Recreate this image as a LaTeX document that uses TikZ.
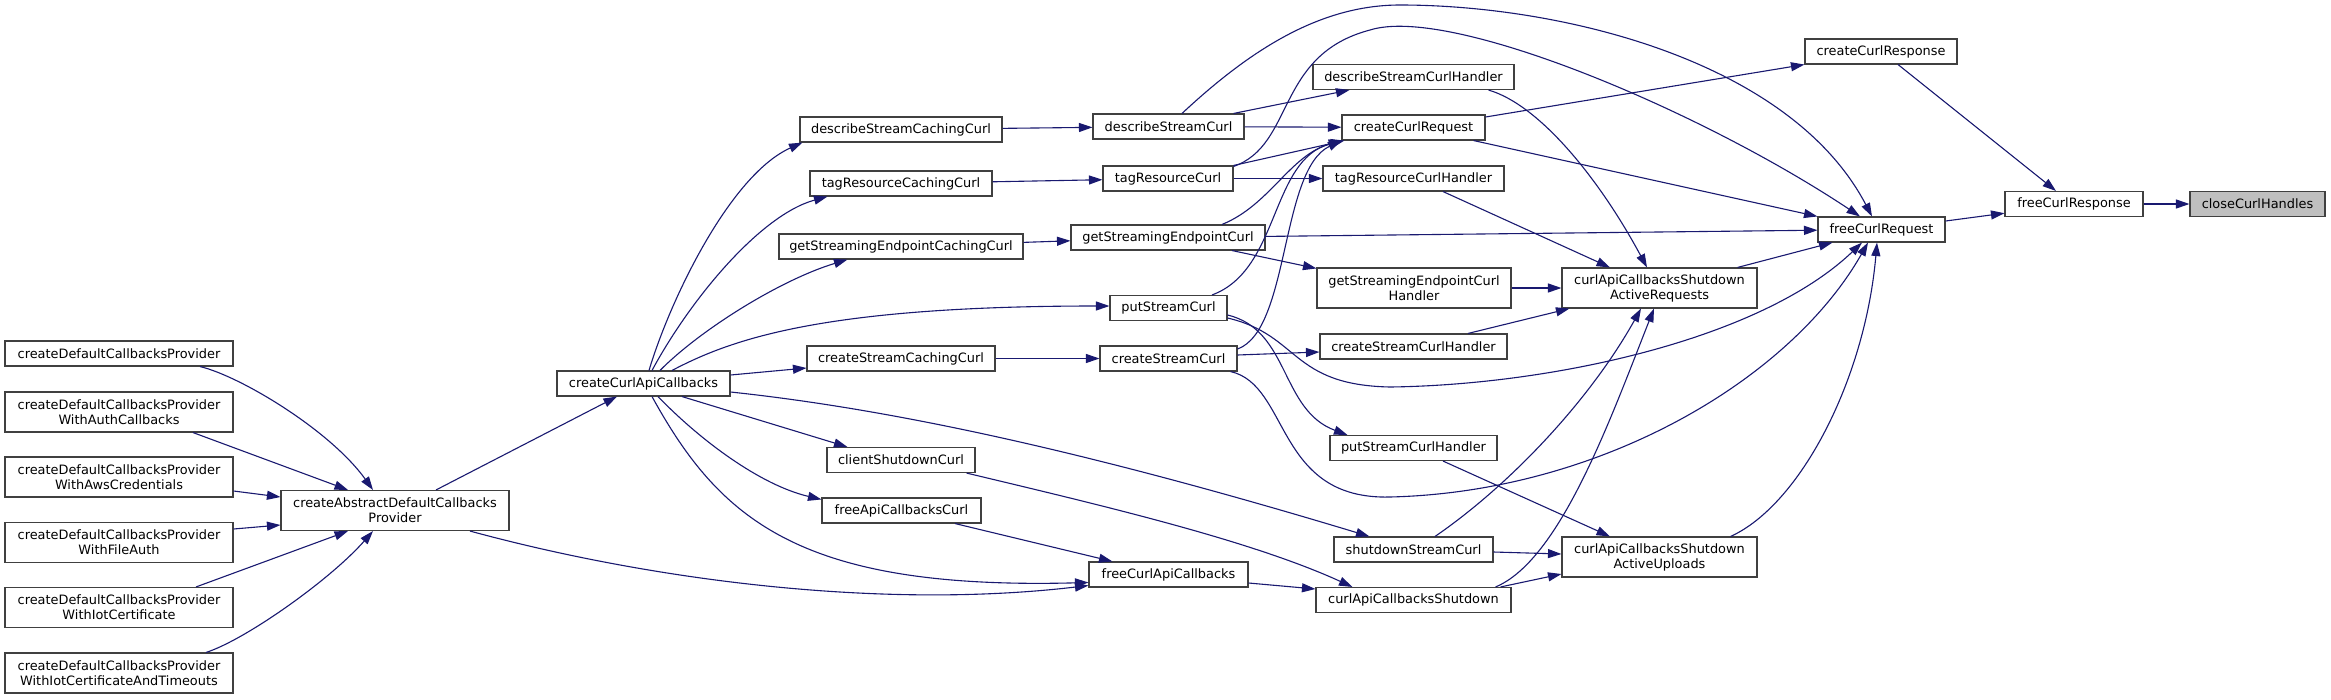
\documentclass[tikz,border=0pt]{standalone}
\usepackage{fontspec}
\setmainfont{DejaVu Sans}
\usetikzlibrary{arrows.meta}
\definecolor{edgeblue}{HTML}{191970}
\definecolor{boxgrey}{HTML}{BFBFBF}

\begin{document}
\begin{tikzpicture}[x=1pt, y=-1pt,
    fn/.style={draw=black!75, fill=white, line width=1.1pt, inner sep=0pt,
        minimum height=25, align=center, font=\fontsize{12.9}{15}\selectfont},
    two/.style={minimum height=40},
    call/.style={draw=edgeblue, line width=1.1pt,
        -{Triangle[length=13.5pt, width=9pt]}}]
    \path[use as bounding box, fill=white] (0,0) rectangle (2331,699);

    % 1. Callers of createAbstractDefaultCallbacksProvider
    \node[fn, minimum width=228] (cdcp) at (119,353.5) {createDefaultCallbacksProvider};
    \node[fn, two, minimum width=228] (cdcpAuth) at (119,412) {createDefaultCallbacksProvider\\WithAuthCallbacks};
    \node[fn, two, minimum width=228] (cdcpAws) at (119,477) {createDefaultCallbacksProvider\\WithAwsCredentials};
    \node[fn, two, minimum width=228] (cdcpFile) at (119,542.5) {createDefaultCallbacksProvider\\WithFileAuth};
    \node[fn, two, minimum width=228] (cdcpIot) at (119,607.5) {createDefaultCallbacksProvider\\WithIotCertificate};
    \node[fn, two, minimum width=228] (cdcpIotTo) at (119,673) {createDefaultCallbacksProvider\\WithIotCertificateAndTimeouts};

    \node[fn, two, minimum width=228] (cadcp) at (395,510.5) {createAbstractDefaultCallbacks\\Provider};
    \node[fn, minimum width=173] (ccac) at (643.5,383.5) {createCurlApiCallbacks};

    % 2. Caching wrappers
    \node[fn, minimum width=202] (dscc) at (901,129.5) {describeStreamCachingCurl};
    \node[fn, minimum width=182] (trcc) at (901,183.5) {tagResourceCachingCurl};
    \node[fn, minimum width=244] (gsecc) at (901,246.5) {getStreamingEndpointCachingCurl};
    \node[fn, minimum width=188] (cscc) at (901,358.5) {createStreamCachingCurl};
    \node[fn, minimum width=148] (csdc) at (901,460) {clientShutdownCurl};
    \node[fn, minimum width=159] (facc) at (901.5,510.5) {freeApiCallbacksCurl};

    % 3. Curl calls
    \node[fn, minimum width=151] (dsc) at (1168.5,126.5) {describeStreamCurl};
    \node[fn, minimum width=130] (trc) at (1168,178.5) {tagResourceCurl};
    \node[fn, minimum width=194] (gsec) at (1168,237.5) {getStreamingEndpointCurl};
    \node[fn, minimum width=117] (psc) at (1168.5,308) {putStreamCurl};
    \node[fn, minimum width=137] (csc) at (1168.5,358.5) {createStreamCurl};
    \node[fn, minimum width=159] (fcac) at (1168.5,574.5) {freeCurlApiCallbacks};

    % 4. Handlers
    \node[fn, minimum width=201] (dsch) at (1413.5,77) {describeStreamCurlHandler};
    \node[fn, minimum width=143] (ccrq) at (1413.5,127.5) {createCurlRequest};
    \node[fn, minimum width=181] (trch) at (1413.5,178.5) {tagResourceCurlHandler};
    \node[fn, two, minimum width=194] (gsech) at (1414,288) {getStreamingEndpointCurl\\Handler};
    \node[fn, minimum width=187] (csch) at (1413.5,346.5) {createStreamCurlHandler};
    \node[fn, minimum width=167] (psch) at (1413.5,448) {putStreamCurlHandler};
    \node[fn, minimum width=159] (ssc) at (1413.5,549.5) {shutdownStreamCurl};
    \node[fn, minimum width=195] (cacs) at (1413.5,600) {curlApiCallbacksShutdown};

    \node[fn, two, minimum width=195] (cacsar) at (1659.5,288) {curlApiCallbacksShutdown\\ActiveRequests};
    \node[fn, two, minimum width=195] (cacsau) at (1659.5,557) {curlApiCallbacksShutdown\\ActiveUploads};

    % 5. Right end
    \node[fn, minimum width=152] (ccrs) at (1881,51.5) {createCurlResponse};
    \node[fn, minimum width=127] (fcrq) at (1881.5,229.5) {freeCurlRequest};
    \node[fn, minimum width=138] (fcrs) at (2074,204) {freeCurlResponse};
    \node[fn, fill=boxgrey, minimum width=135] (cch) at (2257.5,204) {closeCurlHandles};

    % Edges: left part
    \draw[call] ([xshift=81]cdcp.south) .. controls (240,376) and (330,430) .. ([xshift=-22]cadcp.north);
    \draw[call] ([xshift=74]cdcpAuth.south) -- ([xshift=-47]cadcp.north);
    \draw[call] ([yshift=-14]cdcpAws.east) -- ([yshift=13.5]cadcp.west);
    \draw[call] ([yshift=13.5]cdcpFile.east) -- ([yshift=-14.5]cadcp.west);
    \draw[call] ([xshift=77]cdcpIot.north) -- ([xshift=-47]cadcp.south);
    \draw[call] ([xshift=87]cdcpIotTo.north) .. controls (245,640) and (330,580) .. ([xshift=-22]cadcp.south);
    \draw[call] ([xshift=41]cadcp.north) -- ([xshift=-26.5]ccac.south);
    \draw[call] ([xshift=75]cadcp.south) .. controls (650,580) and (880,610) .. ([yshift=-11]fcac.west);

    % Edges: createCurlApiCallbacks
    \draw[call] ([xshift=5.5]ccac.north) .. controls (670,300) and (730,175) .. ([xshift=3]dscc.south west);
    \draw[call] ([xshift=8.5]ccac.north) .. controls (690,300) and (760,215) .. ([xshift=18]trcc.south west);
    \draw[call] ([xshift=16.5]ccac.north) .. controls (700,330) and (780,280) .. ([xshift=69]gsecc.south west);
    \draw[call] ([xshift=28.5]ccac.north) .. controls (730,340) and (820,306) .. ([yshift=2]psc.west);
    \draw[call] ([yshift=8.5]ccac.east) -- ([yshift=-9.5]cscc.west);
    \draw[call] ([xshift=38.5]ccac.south) -- ([xshift=21]csdc.north west);
    \draw[call] ([xshift=14.5]ccac.south) .. controls (700,440) and (760,485) .. ([yshift=-2]facc.north west);
    \draw[call] ([xshift=8.5]ccac.south) .. controls (720,520) and (800,590) .. ([yshift=-8]fcac.west);
    \draw[call] ([yshift=-8.5]ccac.east) .. controls (900,410) and (1100,455) .. ([xshift=36]ssc.north west);

    % Edges: caching wrappers
    \draw[call] (dscc) -- (dsc);
    \draw[call] (trcc) -- (trc);
    \draw[call] (gsecc) -- (gsec);
    \draw[call] (cscc) -- (csc);
    \draw[call] ([xshift=-9]csdc.south east) .. controls (1100,505) and (1250,540) .. ([xshift=37]cacs.north west);
    \draw[call] ([xshift=-26.5]facc.south east) -- ([xshift=24]fcac.north west);
    \draw[call] ([yshift=-8.5]fcac.east) -- ([yshift=11]cacs.west);

    % Edges: curl calls
    \draw[call] ([xshift=-11]dsc.north east) -- ([xshift=37]dsch.south west);
    \draw[call] (dsc) -- (ccrq);
    \draw[call] ([xshift=13.5]dsc.north) .. controls (1250,50) and (1320,5) .. (1400,5)
        .. controls (1560,5) and (1790,60) .. ([xshift=-9.5]fcrq.north);
    \draw[call] (trc.north east) -- ([xshift=3]ccrq.south west);
    \draw[call] (trc) -- (trch);
    \draw[call] ([yshift=-1]trc.north east) .. controls (1295,145) and (1275,55) .. (1370,30)
        .. controls (1450,5) and (1700,110) .. ([xshift=-21.5]fcrq.north);
    \draw[call] ([xshift=54]gsec.north) .. controls (1270,205) and (1290,155) .. ([xshift=1]ccrq.south west);
    \draw[call] ([xshift=64]gsec.south) -- ([yshift=-1]gsech.north west);
    \draw[call] (gsec) -- (fcrq);
    \draw[call] ([xshift=43.5]psc.north) .. controls (1280,270) and (1270,160) .. ([xshift=1]ccrq.south west);
    \draw[call] ([yshift=-7]psc.east) .. controls (1290,330) and (1280,410) .. ([xshift=18]psch.north west);
    \draw[call] ([yshift=-10]psc.east) .. controls (1300,335) and (1290,385) .. (1390,387)
        .. controls (1550,385) and (1760,340) .. ([xshift=-19.5]fcrq.south);
    \draw[call] ([yshift=9.5]csc.east) .. controls (1290,330) and (1280,170) .. (ccrq.south west);
    \draw[call] ([yshift=3.5]csc.east) -- ([yshift=-5.5]csch.west);
    \draw[call] ([xshift=-7]csc.south east) .. controls (1290,385) and (1275,500) .. (1390,497)
        .. controls (1600,492) and (1790,380) .. ([xshift=-13.5]fcrq.south);

    % Edges: handlers
    \draw[call] ([xshift=-26]dsch.south east) .. controls (1540,105) and (1600,180) .. ([xshift=-12.5]cacsar.north);
    \draw[call] ([xshift=29.5]trch.south) -- ([xshift=-49.5]cacsar.north);
    \draw[call] (gsech) -- (cacsar);
    \draw[call] ([xshift=54.5]csch.north) -- ([xshift=8]cacsar.south west);
    \draw[call] ([xshift=29.5]psch.south) -- ([xshift=-49.5]cacsau.north);
    \draw[call] ([xshift=21.5]ssc.north) .. controls (1510,485) and (1590,400) .. ([xshift=-18.5]cacsar.south);
    \draw[call] ([yshift=-2.5]ssc.east) -- ([yshift=3]cacsau.west);
    \draw[call] ([xshift=-16]cacs.north east) .. controls (1560,560) and (1610,420) .. ([xshift=-5.5]cacsar.south);
    \draw[call] ([xshift=-11]cacs.north east) -- ([yshift=-17]cacsau.west);

    % Edges: right end
    \draw[call] ([yshift=10.5]ccrq.east) -- (ccrs.south west);
    \draw[call] ([xshift=-12]ccrq.south east) -- (fcrq.north west);
    \draw[call] ([xshift=-20]cacsar.north east) -- ([xshift=15]fcrq.south west);
    \draw[call] ([xshift=-27]cacsau.north east) .. controls (1800,505) and (1865,380) .. ([xshift=-4.5]fcrq.south);
    \draw[call] ([xshift=17]ccrs.south) -- ([xshift=-18]fcrs.north);
    \draw[call] (fcrq) -- (fcrs);
    \draw[call] (fcrs) -- (cch);
\end{tikzpicture}
\end{document}
